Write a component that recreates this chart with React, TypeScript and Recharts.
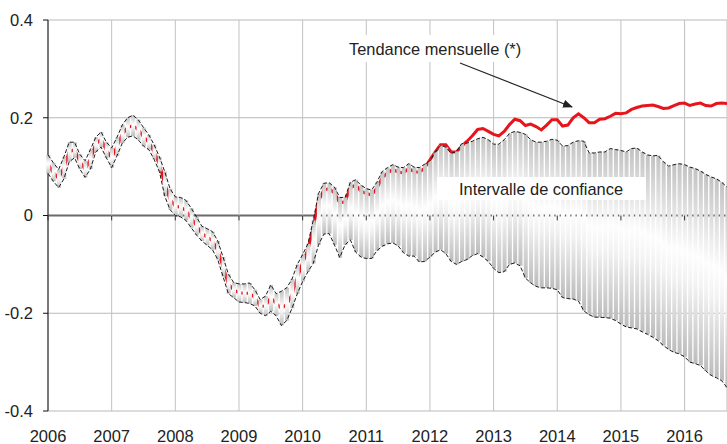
import React from "react";
import {
  Bar,
  CartesianGrid,
  ComposedChart,
  Line,
  ReferenceLine,
  XAxis,
  YAxis,
} from "recharts";

// monthly values, Jan 2006 .. Sep 2016
const yearLabels = ["2006", "2007", "2008", "2009", "2010", "2011", "2012", "2013", "2014", "2015", "2016"];
const yTicks = [-0.4, -0.2, 0, 0.2, 0.4];

const upper = [
  0.124, 0.108, 0.094, 0.12, 0.15, 0.15, 0.125, 0.112, 0.135, 0.16, 0.171, 0.15,
  0.138, 0.16, 0.185, 0.2, 0.205, 0.196, 0.18, 0.165, 0.145, 0.12, 0.09, 0.055,
  0.038, 0.037, 0.031, 0.015, -0.003, -0.022, -0.027, -0.033, -0.052, -0.085, -0.12, -0.137,
  -0.14, -0.14, -0.138, -0.152, -0.172, -0.165, -0.142, -0.16, -0.155, -0.148, -0.13, -0.1,
  -0.08, -0.058, -0.01, 0.045, 0.066, 0.067, 0.058, 0.037, 0.037, 0.068, 0.073, 0.062,
  0.055, 0.052, 0.068, 0.09, 0.098, 0.104, 0.099, 0.098, 0.106, 0.099, 0.098, 0.105,
  0.112, 0.13, 0.143, 0.14, 0.127, 0.131, 0.147, 0.148, 0.152, 0.157, 0.16, 0.155,
  0.146, 0.146, 0.155, 0.168, 0.172, 0.17, 0.166, 0.155, 0.15, 0.15, 0.152, 0.156,
  0.154, 0.142, 0.143, 0.15, 0.153, 0.152, 0.128, 0.128, 0.13, 0.13, 0.137, 0.135,
  0.133, 0.13, 0.137, 0.138, 0.13, 0.124, 0.122, 0.123, 0.11, 0.101, 0.104, 0.106,
  0.104, 0.099, 0.096, 0.091, 0.084, 0.079, 0.075, 0.068, 0.058,
];

const lower = [
  0.086, 0.07, 0.057, 0.075, 0.11, 0.118, 0.095, 0.078, 0.095, 0.13, 0.14, 0.118,
  0.098, 0.122, 0.148, 0.16, 0.163, 0.155, 0.142, 0.135, 0.115, 0.09, 0.04, 0.012,
  0.0, -0.003, -0.01, -0.025, -0.04, -0.052, -0.061, -0.07, -0.09, -0.125, -0.16, -0.168,
  -0.177, -0.178, -0.18, -0.185, -0.2, -0.205, -0.196, -0.205, -0.225, -0.215, -0.19, -0.16,
  -0.135, -0.115, -0.098, -0.06, -0.038, -0.037, -0.06, -0.086, -0.06, -0.05, -0.075, -0.085,
  -0.088, -0.088, -0.072, -0.063, -0.058, -0.056, -0.062, -0.076, -0.083, -0.083, -0.095, -0.094,
  -0.085, -0.075, -0.07, -0.078, -0.094, -0.1, -0.094, -0.09, -0.082, -0.078, -0.085, -0.094,
  -0.108, -0.117, -0.115, -0.1, -0.097, -0.103, -0.128, -0.138, -0.145, -0.148, -0.148, -0.149,
  -0.152, -0.168, -0.17, -0.171, -0.175, -0.195, -0.203, -0.208, -0.208, -0.209, -0.21, -0.215,
  -0.222, -0.228, -0.23, -0.232, -0.238, -0.243, -0.249, -0.256, -0.266, -0.274, -0.28, -0.283,
  -0.289, -0.3, -0.303, -0.307, -0.318, -0.327, -0.332, -0.338, -0.352,
];

const trend = [
  0.105, 0.088, 0.076, 0.098, 0.13, 0.135, 0.11, 0.095, 0.115, 0.146, 0.156, 0.134,
  0.118, 0.141, 0.166, 0.18, 0.184, 0.176, 0.161, 0.15, 0.13, 0.105, 0.065, 0.033,
  0.019, 0.017, 0.01, -0.005, -0.021, -0.037, -0.044, -0.052, -0.071, -0.105, -0.14, -0.152,
  -0.158, -0.159, -0.159, -0.168, -0.186, -0.185, -0.168, -0.18, -0.19, -0.182, -0.162, -0.127,
  -0.097, -0.07, -0.024, 0.03, 0.052, 0.055, 0.046, 0.026, 0.028, 0.057, 0.062, 0.05,
  0.045, 0.042, 0.056, 0.077, 0.087, 0.094, 0.089, 0.087, 0.096, 0.09, 0.088, 0.097,
  0.114, 0.13, 0.145, 0.145, 0.13, 0.13, 0.142, 0.152, 0.163, 0.176, 0.178, 0.172,
  0.166, 0.163, 0.172, 0.186, 0.197, 0.194, 0.184, 0.187, 0.182, 0.175, 0.185, 0.196,
  0.196, 0.183, 0.185, 0.2, 0.208, 0.2, 0.19, 0.19, 0.197, 0.198, 0.203, 0.209,
  0.208, 0.21, 0.217, 0.221, 0.224, 0.225, 0.226, 0.223, 0.219, 0.22, 0.225, 0.229,
  0.23, 0.225, 0.228, 0.23, 0.225, 0.224, 0.229, 0.23, 0.229,
];

const data = upper.map((u, i) => ({
  m: i,
  up: u,
  low: lower[i],
  trend: trend[i],
  band: [lower[i], u],
}));

const yearTicks = yearLabels.map((_, i) => i * 12);

const FONT = '"Liberation Sans", Arial, Helvetica, sans-serif';
const W = 727;
const H = 444;

function HLine(props: any) {
  const { x1, x2, y1, y2, index } = props;
  const zero = index === 2;
  return (
    <line
      key={`h-${index}`}
      x1={x1}
      x2={x2}
      y1={y1}
      y2={y2}
      stroke={zero ? "#6b6b6b" : "#b9b9b9"}
      strokeWidth={zero ? 1.8 : 1}
    />
  );
}

// bottom layer: grid, axes and the trend line
function BaseLayer() {
  return (
    <ComposedChart width={W} height={H} data={data} margin={{ top: 20, right: 0, bottom: 0, left: 0 }}>
      <CartesianGrid stroke="#c2c2c2" horizontal={HLine} />
      <XAxis
        dataKey="m"
        type="number"
        domain={[0, 128]}
        ticks={yearTicks}
        interval={0}
        tickFormatter={(v) => yearLabels[v / 12]}
        axisLine={false}
        tickLine={false}
        tickSize={0}
        tickMargin={19}
        height={33}
        tick={{ fontSize: 16.5, fill: "#222", fontFamily: FONT }}
      />
      <YAxis
        type="number"
        domain={[-0.4, 0.4]}
        ticks={yTicks}
        width={48}
        tickSize={5}
        tickMargin={10}
        axisLine={{ stroke: "#111" }}
        tickLine={{ stroke: "#111" }}
        tickFormatter={(v) => (v === 0 ? "0" : v.toFixed(1))}
        tick={{ fontSize: 16.5, fill: "#222", fontFamily: FONT }}
      />
      <Line
        dataKey="trend"
        type="linear"
        stroke="#e8141c"
        strokeWidth={3}
        dot={false}
        activeDot={false}
        isAnimationActive={false}
      />
    </ComposedChart>
  );
}

// top layer: the confidence band (monthly stripes) and its dashed bounds
function BandLayer() {
  return (
    <ComposedChart width={W} height={H} data={data} margin={{ top: 20, right: 0, bottom: 33, left: 48 }}>
      <XAxis dataKey="m" type="number" domain={[0, 128]} hide />
      <YAxis type="number" domain={[-0.4, 0.4]} hide />
      <Bar dataKey="band" barSize={4} fill="url(#bandGrad)" isAnimationActive={false} />
      <Line
        dataKey="up"
        type="linear"
        stroke="#1a1a1a"
        strokeWidth={1}
        strokeDasharray="4 2"
        dot={false}
        activeDot={false}
        isAnimationActive={false}
      />
      <Line
        dataKey="low"
        type="linear"
        stroke="#1a1a1a"
        strokeWidth={1}
        strokeDasharray="4 2"
        dot={false}
        activeDot={false}
        isAnimationActive={false}
      />
      {yearTicks.map((m) => (
        <ReferenceLine
          key={m}
          segment={[
            { x: m, y: 0 },
            { x: m, y: -0.01 },
          ]}
          stroke="#333"
          strokeWidth={1}
        />
      ))}
    </ComposedChart>
  );
}

export default function App() {
  return (
    <div style={{ position: "relative", width: W, height: H, background: "#fff" }}>
      <style>{"body{margin:0}"}</style>
      <svg width={0} height={0} style={{ position: "absolute" }}>
        <defs>
          <linearGradient id="bandGrad" x1="0" y1="0" x2="0" y2="1">
            <stop offset="0%" stopColor="#c2c2c2" />
            <stop offset="45%" stopColor="#fdfdfd" />
            <stop offset="60%" stopColor="#f2f2f2" />
            <stop offset="100%" stopColor="#bcbcbc" />
          </linearGradient>
          <marker id="arrowHead" markerWidth="10" markerHeight="8" refX="9" refY="4" orient="auto" markerUnits="userSpaceOnUse">
            <path d="M0,0 L10,4 L0,8 z" fill="#222" />
          </marker>
        </defs>
      </svg>
      <div style={{ position: "absolute", left: 0, top: 0 }}>
        <BaseLayer />
      </div>
      <div style={{ position: "absolute", left: 0, top: 0 }}>
        <BandLayer />
      </div>
      <svg width={W} height={H} style={{ position: "absolute", left: 0, top: 0, pointerEvents: "none" }}>
        <rect x={340} y={35} width={190} height={27} fill="#fff" />
        <text x={349} y={55} fontSize={16.4} fontFamily={FONT} fill="#222">
          Tendance mensuelle (*)
        </text>
        <line x1={460} y1={63} x2={572} y2={107} stroke="#222" strokeWidth={1.2} markerEnd="url(#arrowHead)" />
        <rect x={437} y={177} width={209} height={23} fill="#fff" />
        <text x={459} y={195} fontSize={16.4} fontFamily={FONT} fill="#222">
          Intervalle de confiance
        </text>
      </svg>
    </div>
  );
}
